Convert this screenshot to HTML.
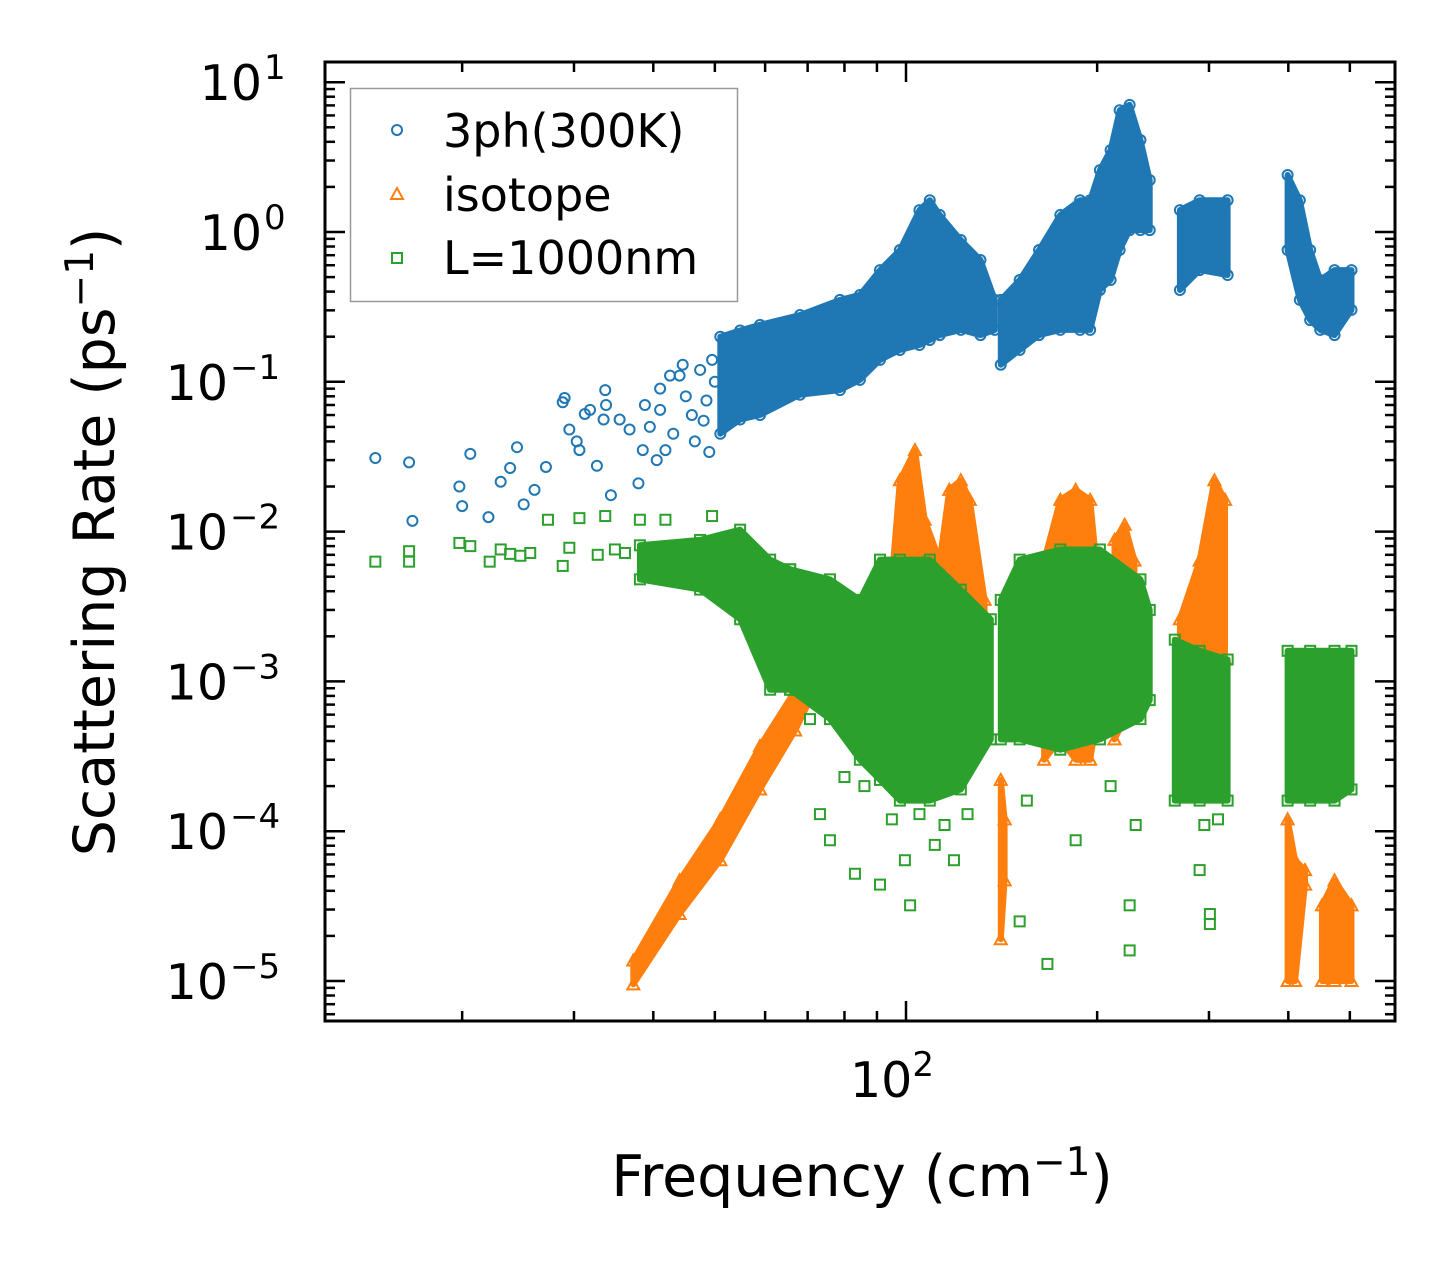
<!DOCTYPE html>
<html><head><meta charset="utf-8">
<style>
html,body{margin:0;padding:0;background:#fff;}
svg{display:block;font-family:"DejaVu Sans","Liberation Sans",sans-serif;}
</style></head>
<body>
<svg id="chart" width="1455" height="1270" viewBox="0 0 1455 1270" xmlns="http://www.w3.org/2000/svg">
<rect x="0" y="0" width="1455" height="1270" fill="#fff"/>
<g id="plot"></g>
<g id="axes"></g>
<text x="862" y="1196" font-size="57" text-anchor="middle">Frequency (cm<tspan dy="-21" font-size="39">−1</tspan><tspan dy="21">)</tspan></text>
<text transform="translate(114,542) rotate(-90)" font-size="57" text-anchor="middle">Scattering Rate (ps<tspan dy="-21" font-size="39">−1</tspan><tspan dy="21">)</tspan></text>
<g>
<rect x="350.5" y="88.5" width="387" height="213" fill="#fff" stroke="#999" stroke-width="1.5"/>
<circle cx="397" cy="130" r="5" fill="none" stroke="#1f77b4" stroke-width="2"/>
<text x="443" y="147" font-size="46">3ph(300K)</text>
<path d="M397,188 L403,199 L391,199 Z" fill="none" stroke="#ff7f0e" stroke-width="2"/>
<text x="443" y="211" font-size="46">isotope</text>
<rect x="392" y="253" width="10" height="10" fill="none" stroke="#2ca02c" stroke-width="2"/>
<text x="443" y="274" font-size="46">L=1000nm</text>
</g>
</svg>
<script>
// ---- data ----
const xTickLabels = ["10"];
const yTickExps = [1, 0, -1, -2, -3, -4, -5];
// blue (3ph) sparse points
const blueF = [14.6,16.5,16.7,19.8,20.0,20.6,22.0,23.0,23.8,24.4,25.0,26.0,27.1,28.8,29.0,29.5,30.3,30.6,31.2,31.8,32.6,33.4,33.6,33.7,34.3,35.4,36.7,37.9,38.8,41.0,41.8,44.0,47.4,49.5,39.5,40.5,42.5,43.0,45.0,46.0,48.0,50.0,38.5,41.0,44.5,46.5,48.5,49.0];
const blueR = [0.031,0.029,0.0118,0.02,0.0148,0.033,0.0125,0.0215,0.0266,0.0366,0.0152,0.019,0.027,0.073,0.078,0.048,0.04,0.035,0.061,0.065,0.0275,0.056,0.088,0.07,0.0175,0.056,0.048,0.021,0.07,0.09,0.035,0.11,0.12,0.14,0.05,0.03,0.11,0.045,0.08,0.06,0.055,0.1,0.035,0.065,0.13,0.04,0.075,0.034];
// blue dense bands: freq, low, high
const blueBandF = [[51.0,54.8,58.9,68.1,78.7,84.6,91.0,97.8,105,109,113,122,131,138],
                   [141,151,162,175,188,195,202,210,217,225,234,242],
                   [270,290,321],
                   [399,417,433,449,473,503]];
const blueBandLo = [[0.045,0.056,0.06,0.082,0.088,0.103,0.14,0.163,0.176,0.19,0.205,0.222,0.205,0.222],
                    [0.13,0.163,0.205,0.222,0.222,0.222,0.41,0.478,0.758,1.03,1.03,1.03],
                    [0.41,0.557,0.516],
                    [0.758,0.352,0.258,0.222,0.205,0.302]];
const blueBandHi = [[0.2,0.22,0.24,0.279,0.352,0.38,0.557,0.758,1.40,1.63,1.30,0.884,0.65,0.352],
                    [0.352,0.478,0.758,1.30,1.63,1.63,2.59,3.52,6.5,7.06,4.11,2.22],
                    [1.40,1.63,1.63],
                    [2.40,1.63,0.758,0.478,0.557,0.557]];
// orange (isotope) bands
const orangeBandF = [[37.2,44.0,51.0,58.9,66.9,70.6],
                     [94.4,97.8,103.3,107,113,117,122,126,133],
                     [165,175,185,195,202],
                     [213,221,229],
                     [270,290,306,318],
                     [141,143],
                     [399,410,425],
                     [452,473,503]];
const orangeBandLo = [[9.5e-6,2.8e-5,6.4e-5,1.9e-4,4.7e-4,7.5e-4],
                      [7.5e-4,5.6e-4,3.0e-4,3.0e-4,3.5e-4,3.0e-4,5.6e-4,5.6e-4,7.5e-4],
                      [3.0e-4,4.1e-4,3.0e-4,3.0e-4,7.5e-4],
                      [4.1e-4,5.6e-4,7.5e-4],
                      [2.2e-4,3.0e-4,1.3e-3,1.4e-3],
                      [1.9e-5,4.7e-5],
                      [1.0e-5,1.0e-5,4.4e-5],
                      [1.0e-5,1.0e-5,1.0e-5]];
const orangeBandHi = [[1.37e-5,4.7e-5,1.2e-4,3.7e-4,8.7e-4,1.3e-3],
                      [3.5e-3,0.022,0.035,0.012,6.4e-3,0.019,0.022,0.0163,3.5e-3],
                      [6.4e-3,0.0163,0.019,0.0163,3.5e-3],
                      [8.8e-3,0.0111,6.4e-3],
                      [2.6e-3,6.4e-3,0.022,0.0163],
                      [2.2e-4,1.2e-4],
                      [1.2e-4,6.4e-5,5.5e-5],
                      [3.2e-5,4.7e-5,3.2e-5]];
// green (boundary) sparse points
const greenF = [14.6,16.5,16.5,19.8,20.6,22.1,23.0,23.8,24.7,25.6,27.3,28.8,29.5,30.6,32.7,33.6,34.8,36.1,38.1,41.8,44.0,49.5,73.2,75.9,83.1,91.0,99.6,101.5,111,119,151,185,225,225,167,301,301,290,63.3,70.6,80.0,86.0,95.0,105,115,125,155,210,230,295,310];
const greenR = [0.0063,0.0074,0.0063,0.0084,0.008,0.0063,0.0076,0.0071,0.0069,0.0072,0.0120,0.0059,0.0078,0.0123,0.0070,0.0127,0.0076,0.0072,0.0120,0.0120,0.0074,0.0127,1.3e-4,8.7e-5,5.2e-5,4.4e-5,6.4e-5,3.2e-5,8.1e-5,6.4e-5,2.5e-5,8.7e-5,1.6e-5,3.2e-5,1.3e-5,2.4e-5,2.8e-5,5.5e-5,1.0e-3,5.6e-4,2.3e-4,2.0e-4,1.2e-4,1.3e-4,1.1e-4,1.3e-4,1.6e-4,2.0e-4,1.1e-4,1.1e-4,1.2e-4];
const greenBandF = [[38.1,47.4,54.8,61.1,65.7],
                    [65.7,75.9,84.6,91.0,97.8,109,122,136],
                    [141,151,175,202,234,242],
                    [265,290,321],
                    [399,433,473,503]];
const greenBandLo = [[0.0048,0.0041,0.0026,0.00088,0.00088],
                     [0.00088,0.00056,0.0003,0.00022,0.00016,0.00016,0.00019,0.00041],
                     [0.00041,0.00041,0.00035,0.00041,0.00056,0.00075],
                     [0.00016,0.00016,0.00016],
                     [0.00016,0.00016,0.00016,0.00019]];
const greenBandHi = [[0.0081,0.0088,0.0103,0.0065,0.0056],
                     [0.0056,0.0048,0.0035,0.0065,0.0065,0.0065,0.0041,0.0026],
                     [0.0035,0.0065,0.0076,0.0076,0.0048,0.0030],
                     [0.0019,0.0016,0.0014],
                     [0.0016,0.0016,0.0016,0.0016]];

// ---- axes functions ----
const X0 = 325, X1 = 1395, Y0 = 62, Y1 = 1021;
const XDEC = 635, X100 = 906, YDEC = 149.8, Y1VAL = 232;
function sx(f){ return X100 + (Math.log10(f) - 2) * XDEC; }
function sy(r){ return Y1VAL - Math.log10(r) * YDEC; }
const NS = "http://www.w3.org/2000/svg";
const plot = document.getElementById('plot');
const axes = document.getElementById('axes');
function mk(tag, attrs, parent){
  const e = document.createElementNS(NS, tag);
  for (const k in attrs) e.setAttribute(k, attrs[k]);
  parent.appendChild(e); return e;
}
const clip = mk('clipPath', {id:'clipp'}, plot);
mk('rect', {x:X0, y:Y0, width:X1-X0, height:Y1-Y0}, clip);
plot.setAttribute('clip-path', 'url(#clipp)');

function drawBands(F, LO, HI, color, name){
  for (let b = 0; b < F.length; b++){
    let pts = [];
    for (let i = 0; i < F[b].length; i++) pts.push(sx(F[b][i]).toFixed(1)+','+sy(HI[b][i]).toFixed(1));
    for (let i = F[b].length-1; i >= 0; i--) pts.push(sx(F[b][i]).toFixed(1)+','+sy(LO[b][i]).toFixed(1));
    const p = mk('polygon', {points:pts.join(' '), fill:color, stroke:color, 'stroke-width':6, 'stroke-linejoin':'round'}, plot);
    
    
  }
}
function marker(kind, x, y, color, name){
  let e;
  if (kind === 'circle') e = mk('circle', {cx:x, cy:y, r:5, fill:'none', stroke:color, 'stroke-width':2}, plot);
  else if (kind === 'tri') e = mk('path', {d:`M${x},${y-6} L${x+6},${y+5} L${x-6},${y+5} Z`, fill:'none', stroke:color, 'stroke-width':2}, plot);
  else e = mk('rect', {x:x-5, y:y-5, width:10, height:10, fill:'none', stroke:color, 'stroke-width':2}, plot);
  
  
}
function bandEdgeMarkers(F, LO, HI, kind, color, name){
  for (let b = 0; b < F.length; b++)
    for (let i = 0; i < F[b].length; i++){
      marker(kind, sx(F[b][i]), sy(HI[b][i]), color, name);
      marker(kind, sx(F[b][i]), sy(LO[b][i]), color, name);
    }
}
// blue
drawBands(blueBandF, blueBandLo, blueBandHi, '#1f77b4', 'three-phonon');
bandEdgeMarkers(blueBandF, blueBandLo, blueBandHi, 'circle', '#1f77b4', 'three-phonon-point');
for (let i = 0; i < blueF.length; i++) marker('circle', sx(blueF[i]), sy(blueR[i]), '#1f77b4', 'three-phonon-point');
// orange
drawBands(orangeBandF, orangeBandLo, orangeBandHi, '#ff7f0e', 'isotope');
bandEdgeMarkers(orangeBandF, orangeBandLo, orangeBandHi, 'tri', '#ff7f0e', 'isotope-point');
// green
drawBands(greenBandF, greenBandLo, greenBandHi, '#2ca02c', 'boundary');
bandEdgeMarkers(greenBandF, greenBandLo, greenBandHi, 'sq', '#2ca02c', 'boundary-point');
for (let i = 0; i < greenF.length; i++) marker('sq', sx(greenF[i]), sy(greenR[i]), '#2ca02c', 'boundary-point');

// frame
const fr = mk('rect', {x:X0, y:Y0, width:X1-X0, height:Y1-Y0, fill:'none', stroke:'#000', 'stroke-width':3}, axes);


// x ticks
for (let d = 1; d <= 2; d++){
  for (let m = 1; m <= 9; m++){
    const f = m * Math.pow(10, d);
    const x = sx(f);
    if (x < X0 || x > X1) continue;
    const len = m === 1 ? 20 : 10;
    mk('line', {x1:x, y1:Y1, x2:x, y2:Y1-len, stroke:'#000', 'stroke-width':2.5}, axes);
    mk('line', {x1:x, y1:Y0, x2:x, y2:Y0+len, stroke:'#000', 'stroke-width':2.5}, axes);
  }
}
const xl = mk('text', {x:sx(100)-14, y:1097, 'font-size':49, 'text-anchor':'middle'}, axes);


xl.textContent = xTickLabels[0];
const xs = mk('tspan', {dy:-21, 'font-size':34}, xl); xs.textContent = '2';
// y ticks
for (let e = -6; e <= 1; e++){
  for (let m = 1; m <= 9; m++){
    const y = sy(m * Math.pow(10, e));
    if (y < Y0 || y > Y1) continue;
    const len = m === 1 ? 20 : 10;
    mk('line', {x1:X0, y1:y, x2:X0+len, y2:y, stroke:'#000', 'stroke-width':2.5}, axes);
    mk('line', {x1:X1, y1:y, x2:X1-len, y2:y, stroke:'#000', 'stroke-width':2.5}, axes);
  }
}
yTickExps.forEach(e => {
  const y = sy(Math.pow(10, e));
  const t = mk('text', {x:e < 0 ? 228 : 262, y:y+18, 'font-size':49, 'text-anchor':'end'}, axes);
  
  
  t.textContent = '10';
  const s = mk('tspan', {x:e < 0 ? 230 : 264, dy:-21, 'font-size':34, 'text-anchor':'start'}, t);
  s.textContent = (e < 0 ? '−' : '') + Math.abs(e);
});
</script>
</body></html>
